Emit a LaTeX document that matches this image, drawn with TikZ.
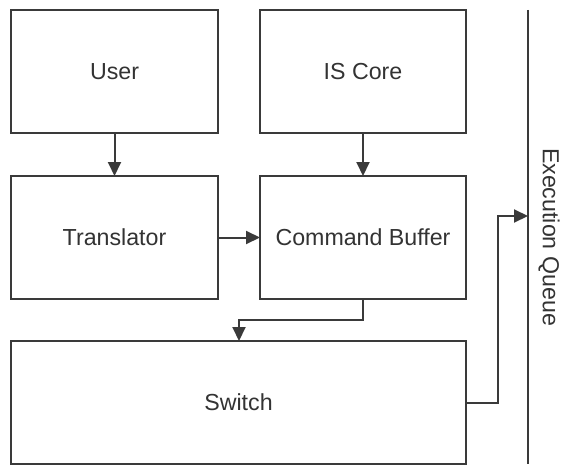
\documentclass[tikz,border=0pt]{standalone}
\usepackage{fontspec}
\setmainfont{Liberation Sans}
\usetikzlibrary{arrows.meta}
\definecolor{edge}{HTML}{3A3A3A}
\definecolor{ink}{HTML}{333333}
\begin{document}
\begin{tikzpicture}[x=1pt,y=-1pt,
  blk/.style={draw=edge,line width=2pt,fill=white,inner sep=0pt},
  lbl/.style={text=ink,font=\fontsize{23.2}{27}\selectfont},
  conn/.style={draw=edge,line width=2pt,-{Triangle[length=14pt,width=13pt]}},
  plain/.style={draw=edge,line width=2pt}]
\useasboundingbox (0,0) rectangle (561,468);
% blocks
\draw[blk] (11,10) rectangle (218,133);
\node[lbl] (user) at (114.5,71.5) {User};
\coordinate (userS) at (114.5,133);
\draw[blk] (260,10) rectangle (466,133);
\node[lbl] (core) at (363,71.5) {IS Core};
\coordinate (coreS) at (363,133);
\draw[blk] (11,176) rectangle (218,299);
\node[lbl] (trans) at (114.5,237.5) {Translator};
\coordinate (transN) at (114.5,176);
\coordinate (transE) at (218,237.5);
\draw[blk] (260,176) rectangle (466,299);
\node[lbl] (cmd) at (363,237.5) {Command Buffer};
\coordinate (cmdN) at (363,176);
\coordinate (cmdW) at (260,237.5);
\coordinate (cmdS) at (363,299);
\draw[blk] (11,341) rectangle (466,464);
\node[lbl] (sw) at (238.5,402.5) {Switch};
\coordinate (swN) at (239,341);
\coordinate (swE) at (466,403);
% execution queue
\coordinate (qtop) at (528,10);
\coordinate (qbot) at (528,464);
\coordinate (qin) at (528,216);
\draw[plain] (qtop) -- (qbot);
\node[lbl,rotate=-90] (queue) at (549,237) {Execution Queue};
% connectors
\draw[conn] (userS) -- (transN);
\draw[conn] (coreS) -- (cmdN);
\draw[conn] (transE) -- (cmdW);
\draw[conn] (cmdS) -- (363,320) -- (239,320) -- (swN);
\draw[conn] (swE) -- (498,403) -- (498,216) -- (qin);
\end{tikzpicture}
\end{document}
